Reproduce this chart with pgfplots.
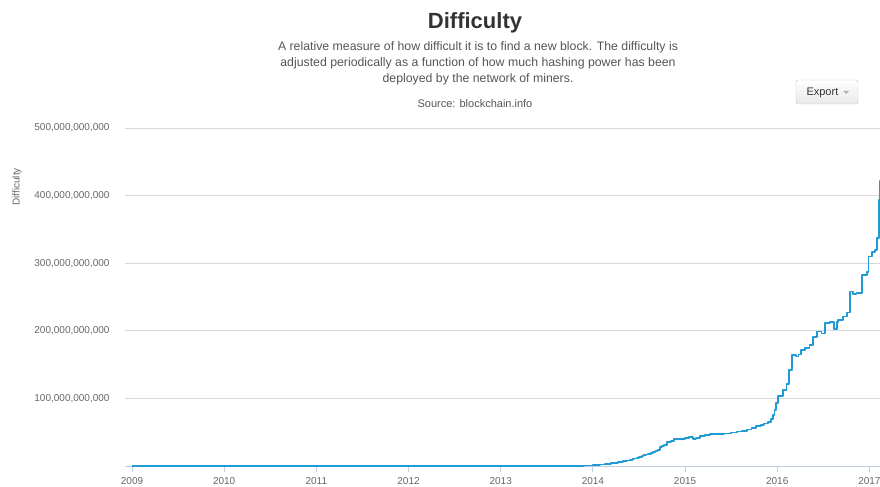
\documentclass[border=0pt]{standalone}
\usepackage{fontspec}
\setmainfont{Liberation Sans}
\usepackage{pgfplots}
\pgfplotsset{compat=1.18}
\definecolor{diffline}{RGB}{32,154,212}
\definecolor{titlegray}{RGB}{51,51,51}
\definecolor{subgray}{RGB}{85,85,85}
\definecolor{tickgray}{RGB}{102,102,102}
\definecolor{gridgray}{RGB}{216,216,216}
\definecolor{axisblue}{RGB}{192,208,224}
\begin{document}
\begin{tikzpicture}[x=1bp,y=1bp]
\path[use as bounding box] (0,0) rectangle (880,487);
\begin{axis}[
  at={(125bp,21bp)}, anchor=south west,
  scale only axis, width=755bp, height=338bp,
  xmin=2008.924, xmax=2017.115, ymin=0, ymax=500,
  axis x line*=bottom, axis y line*=left,
  y axis line style={draw=none},
  x axis line style={draw=axisblue, line width=0.8bp},
  xtick={2009,2010,2011,2012,2013,2014,2015,2016,2017},
  xticklabels={2009,2010,2011,2012,2013,2014,2015,2016,2017},
  ytick={100,200,300,400,500},
  yticklabels={{100,000,000,000},{200,000,000,000},{300,000,000,000},{400,000,000,000},{500,000,000,000}},
  tick align=outside,
  x tick style={draw=axisblue, line width=0.8bp},
  xtick style={draw=axisblue},
  major tick length=6bp,
  y tick style={draw=none},
  ymajorgrids, grid style={draw=gridgray, line width=0.8bp},
  ticklabel style={font=\fontsize{10bp}{12bp}\selectfont, text=tickgray},
  yticklabel style={xshift=-6bp},
  xticklabel style={yshift=-2bp},
  clip=false,
]
\addplot[const plot, draw=diffline, line width=1.8bp, line join=round] coordinates {
(2009.00,0.001) (2011.0,0.002) (2012.0,0.003) (2013.0,0.004) (2013.5,0.03)
(2013.75,0.2) (2013.9,0.7) (2014.0,1.4) (2014.04,1.8) (2014.08,2.2) (2014.13,3.0)
(2014.17,3.5) (2014.2,4.0) (2014.24,4.8) (2014.27,5.5) (2014.3,6.2) (2014.33,7.0)
(2014.37,8.0) (2014.4,8.9) (2014.43,10.0) (2014.45,11.0) (2014.48,12.2)
(2014.5,13.5) (2014.53,14.8) (2014.55,16.0) (2014.58,17.0) (2014.6,18.0)
(2014.63,19.5) (2014.65,21.0) (2014.68,22.5) (2014.7,24.0)
(2014.73,28.0) (2014.75,29.5) (2014.77,31.0) (2014.8,35.0) (2014.85,37.0) (2014.88,39.5)
(2014.95,40.3) (2015.0,41.0) (2015.04,43.0) (2015.09,40.5) (2015.12,42.0)
(2015.16,44.0) (2015.22,46.0) (2015.27,47.5) (2015.35,47.5) (2015.42,48.0)
(2015.5,49.5) (2015.56,51.0) (2015.62,52.0) (2015.67,54.0) (2015.72,56.0)
(2015.77,59.0) (2015.82,61.0) (2015.86,63.0) (2015.9,65.0) (2015.93,70.0)
(2015.95,76.0) (2015.97,83.0) (2015.99,93.0) (2016.01,103.0) (2016.06,112.0)
(2016.10,121.0) (2016.13,142.0) (2016.16,164.0) (2016.20,162.0) (2016.23,165.0)
(2016.26,171.0) (2016.30,175.0) (2016.35,179.0) (2016.39,191.0) (2016.43,199.0)
(2016.48,196.0) (2016.52,211.0) (2016.57,213.0) (2016.61,213.0) (2016.62,203.0)
(2016.645,213.0) (2016.66,216.0) (2016.71,221.0) (2016.76,227.0) (2016.79,258.0)
(2016.82,255.0) (2016.86,256.0) (2016.92,283.0) (2016.97,287.0) (2016.99,310.0)
(2017.03,317.0) (2017.06,320.0) (2017.08,337.0) (2017.10,393.0) (2017.112,422.0)
(2017.115,422.0)
};
\end{axis}
% titles
\node[anchor=base, text=titlegray, font=\fontsize{22bp}{26bp}\selectfont\bfseries] at (475,458) {Difficulty};
\node[anchor=base, text=subgray, font=\fontsize{12.3bp}{14bp}\selectfont] at (478,436) {A relative measure of how difficult it is to find a new block. The difficulty is};
\node[anchor=base, text=subgray, font=\fontsize{12.3bp}{14bp}\selectfont] at (478,420) {adjusted periodically as a function of how much hashing power has been};
\node[anchor=base, text=subgray, font=\fontsize{12.3bp}{14bp}\selectfont] at (478,404) {deployed by the network of miners.};
\node[anchor=base, text=subgray, font=\fontsize{11bp}{13bp}\selectfont] at (475,379) {Source: blockchain.info};
\node[rotate=90, text=tickgray, font=\fontsize{10bp}{12bp}\selectfont] at (17,300) {Difficulty};
% export button
\shade[top color=white, bottom color=gray!18, draw=gray!45, rounded corners=2bp] (796,383) rectangle (858,407);
\node[anchor=base west, text=titlegray, font=\fontsize{11bp}{13bp}\selectfont] at (803,391) {Export};
\fill[gray!60] (843,396) -- (849,396) -- (846,393) -- cycle;
\end{tikzpicture}
\end{document}
